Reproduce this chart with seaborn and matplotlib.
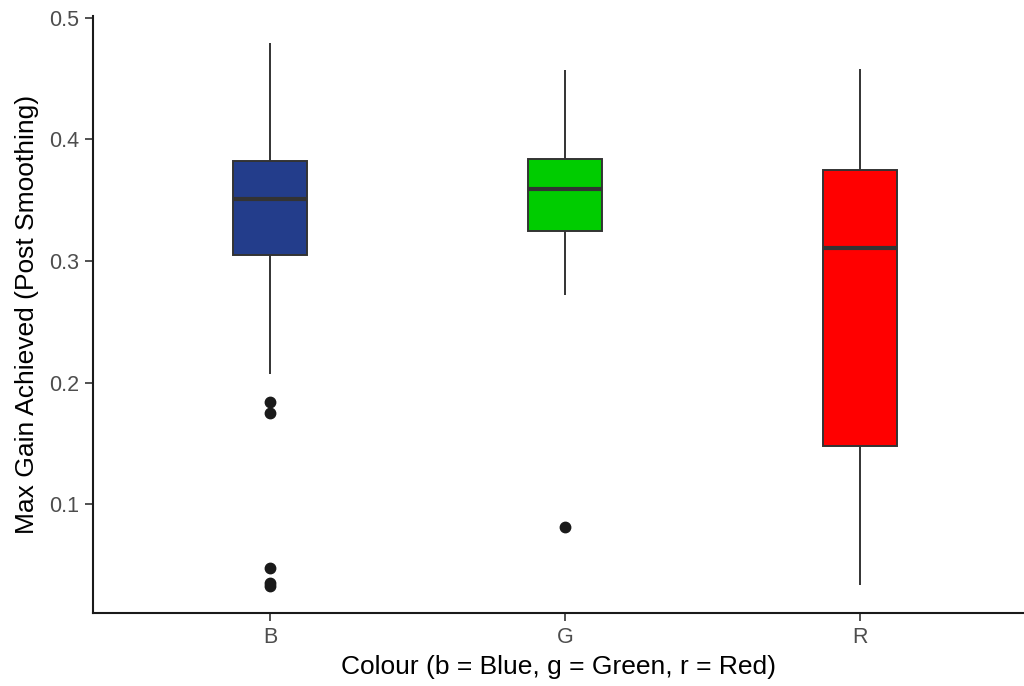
import matplotlib
matplotlib.use("Agg")
import matplotlib.pyplot as plt
import seaborn as sns
import pandas as pd

# Values chosen so that quartiles / whiskers / outliers match the reference
blue_vals = [0.033, 0.035, 0.048, 0.175, 0.184, 0.207, 0.26, 0.29, 0.305,
             0.32, 0.33, 0.34, 0.345, 0.35, 0.35, 0.35, 0.351,
             0.355, 0.36, 0.365, 0.37, 0.375, 0.38, 0.38, 0.382,
             0.39, 0.40, 0.41, 0.42, 0.43, 0.45, 0.46, 0.479]
green_vals = [0.081, 0.272, 0.325, 0.34, 0.359, 0.37, 0.384, 0.42, 0.457]
red_vals = [0.034, 0.148, 0.311, 0.375, 0.458]

categories = ["B", "G", "R"]
colours = ["#233D8B", "#00CC00", "#FF0000"]

df = pd.DataFrame({
    "Colour": ["B"] * len(blue_vals) + ["G"] * len(green_vals) + ["R"] * len(red_vals),
    "Gain": blue_vals + green_vals + red_vals,
})

sns.set_style("white")
plt.rcParams["font.family"] = ["Liberation Sans", "DejaVu Sans"]

fig = plt.figure(figsize=(10.24, 6.86), dpi=100)
ax = fig.add_axes([93 / 1024, (686 - 613) / 686, (1024 - 93) / 1024, (613 - 16) / 686])

sns.boxplot(data=df, x="Colour", y="Gain", hue="Colour", order=categories,
            hue_order=categories, palette=colours, width=0.25, dodge=False,
            linecolor="#333333", linewidth=1.4, showcaps=False, saturation=1,
            flierprops=dict(marker="o", markerfacecolor="#1a1a1a",
                            markeredgecolor="#1a1a1a", markersize=7.5),
            medianprops=dict(linewidth=3, color="#333333"),
            ax=ax, legend=False)

ax.set_xlim(-0.6, 2.555)
ax.set_ylim(0.0107, 0.5013)
ax.set_yticks([0.1, 0.2, 0.3, 0.4, 0.5])
ax.set_yticklabels(["0.1", "0.2", "0.3", "0.4", "0.5"])

for s in ["top", "right"]:
    ax.spines[s].set_visible(False)
for s in ["left", "bottom"]:
    ax.spines[s].set_color("#1a1a1a")
    ax.spines[s].set_linewidth(1.5)

ax.tick_params(axis="both", which="both", length=6, width=1.2, color="#333333",
               labelcolor="#4D4D4D", labelsize=15.5, left=True, bottom=True, pad=4)

ax.set_xlabel("Colour (b = Blue, g = Green, r = Red)", fontsize=19, color="black", labelpad=5)
ax.set_ylabel("Max Gain Achieved (Post Smoothing)", fontsize=19, color="black", labelpad=7)

fig.savefig("out.png", dpi=100)
